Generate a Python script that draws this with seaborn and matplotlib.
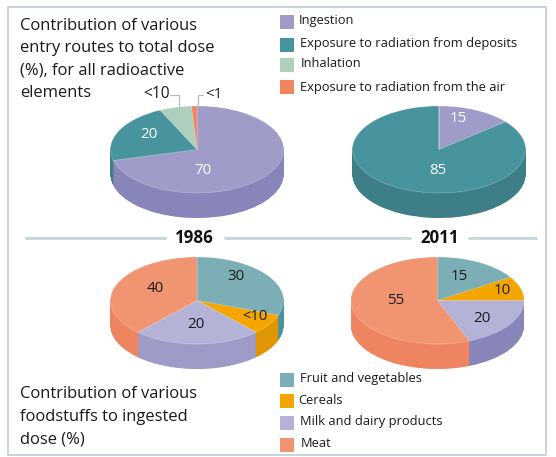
import matplotlib
matplotlib.use("Agg")
import matplotlib.pyplot as plt
from matplotlib.patches import Rectangle
import seaborn as sns

# ---- data ----
route_names = ["Ingestion", "Exposure to radiation from deposits", "Inhalation",
               "Exposure to radiation from the air"]
routes_1986 = [71, 22, 6, 1]
routes_2011 = [14, 86, 0, 0]
routes_1986_labels = ["70", "20", "<10", "<1"]
routes_2011_labels = ["15", "85"]

food_names = ["Fruit and vegetables", "Cereals", "Milk and dairy products", "Meat"]
food_1986 = [30.5, 7.5, 24, 38]
food_2011 = [16, 9, 19, 56]
food_1986_labels = ["30", "<10", "20", "40"]
food_2011_labels = ["15", "10", "20", "55"]

title_top = ["Contribution of various", "entry routes to total dose",
             "(%), for all radioactive", "elements"]
title_bottom = ["Contribution of various", "foodstuffs to ingested", "dose (%)"]
years = ["1986", "2011"]

# ---- style ----
route_top = ["#a09cc9", "#47939e", "#aecfbe", "#f08560"]
route_side = ["#8885ba", "#3e7f87", "#93b8a6", "#dd7450"]
food_top = ["#7cafb5", "#f5a500", "#b5b2d7", "#f19472"]
food_side_l = ["#47939e", "#e09600", "#9f9bc9", "#ee8560"]
food_side_r = ["#47939e", "#e09600", "#8885ba", "#ee8560"]

W, H = 556, 457
sns.set_theme(style="white")
plt.rcParams["font.family"] = ["Open Sans", "DejaVu Sans"]
INK = "#1a1a1a"
RULE = "#c8d4de"

fig = plt.figure(figsize=(W / 100, H / 100), dpi=100, facecolor="white")
bg = fig.add_axes([0, 0, 1, 1], zorder=0)
bg.set_xlim(0, W)
bg.set_ylim(H, 0)
bg.axis("off")
fg = fig.add_axes([0, 0, 1, 1], zorder=5)
fg.set_xlim(0, W)
fg.set_ylim(H, 0)
fg.axis("off")
fg.patch.set_alpha(0)

# frame and year rules
bg.add_patch(Rectangle((8, 6.5), 538, 448, fill=False, ec=RULE, lw=1.4))
for x0, x1 in [(25, 166), (224, 411), (468, 537)]:
    bg.plot([x0, x1], [238, 238], color=RULE, lw=2, solid_capstyle="butt")


def pie3d(values, top, side, cx, cy, rx=86.5, ry=43.5, depth=25):
    ax = fig.add_axes([(cx - rx - 3) / W, 1 - (cy + ry + depth + 3) / H,
                       (2 * rx + 6) / W, (2 * ry + depth + 6) / H], zorder=2)
    for k in range(int(depth * 2), 0, -1):
        ax.pie(values, colors=side, startangle=90, counterclock=False,
               center=(0, -k * 0.5 / ry), radius=1,
               wedgeprops=dict(linewidth=0.6, edgecolor="none"))
    ax.pie(values, colors=top, startangle=90, counterclock=False, center=(0, 0), radius=1,
           wedgeprops=dict(linewidth=0.5, edgecolor=(1, 1, 1, 0.3)))
    ax.set_aspect("auto")
    ax.set_xlim(-1 - 3 / rx, 1 + 3 / rx)
    ax.set_ylim(-1 - (depth + 3) / ry, 1 + 3 / ry)
    ax.axis("off")
    ax.patch.set_alpha(0)


pie3d(routes_1986, route_top, route_side, 197, 149.5)
pie3d(routes_2011, route_top, route_side, 439, 149.5)
pie3d(food_1986, food_top, food_side_l, 197, 300.5)
pie3d(food_2011, food_top, food_side_r, 437.5, 300.5)


def label(x, y, s, color=INK, size=10.9, **kw):
    fg.text(x, y, s, color=color, fontsize=size, ha="center", va="center", **kw)


for (x, y), s in zip([(203, 171), (149, 135)], routes_1986_labels[:2]):
    label(x, y, s, color="white")
for (x, y), s in zip([(458, 119), (438, 171)], routes_2011_labels):
    label(x, y, s, color="white")
label(156.5, 94.5, routes_1986_labels[2], size=11.2)
label(214, 94.5, routes_1986_labels[3], size=10.9)
fg.plot([170, 178.5, 178.5], [95, 95, 110], color="#b3bfc6", lw=0.9)
fg.plot([203, 197.5, 197.5], [95, 95, 106], color="#b3bfc6", lw=0.9)

for (x, y), s in zip([(236, 277), (255, 317), (196, 325), (155, 288)], food_1986_labels):
    label(x, y, s, size=10.6 if s.startswith("<") else 10.9)
for (x, y), s in zip([(459, 277), (502, 290), (482, 319), (396, 300)], food_2011_labels):
    label(x, y, s)

for i, line in enumerate(title_top):
    fg.text(20, 25.5 + i * 22.4, line, fontsize=11.9, color=INK, ha="left", va="center")
for i, line in enumerate(title_bottom):
    fg.text(20, 394.5 + i * 22.5, line, fontsize=11.9, color=INK, ha="left", va="center")

for x, s in zip([194, 440], years):
    label(x, 238, s, size=12.2, fontweight="bold", color="#111111")

# legends
top_rows = [(15, 20.5, 298.5), (37.5, 43, 300), (58, 63.5, 300.5), (80, 87.5, 300)]
for name, c, (ys, yt, xt) in zip(route_names, route_top, top_rows):
    fg.add_patch(Rectangle((280, ys), 14, 14, fc=c, ec="none"))
    fg.text(xt, yt, name, fontsize=9.3, color=INK, ha="left", va="center")
bot_rows = [(373, 378.5, 300.5), (394, 400.5, 298.5), (416, 421.5, 300.5), (438, 443.5, 300.5)]
for name, c, (ys, yt, xt) in zip(food_names, food_top, bot_rows):
    fg.add_patch(Rectangle((280, ys), 14, 14, fc=c, ec="none"))
    fg.text(xt, yt, name, fontsize=9.3, color=INK, ha="left", va="center")

fig.savefig("out.png", dpi=100)
